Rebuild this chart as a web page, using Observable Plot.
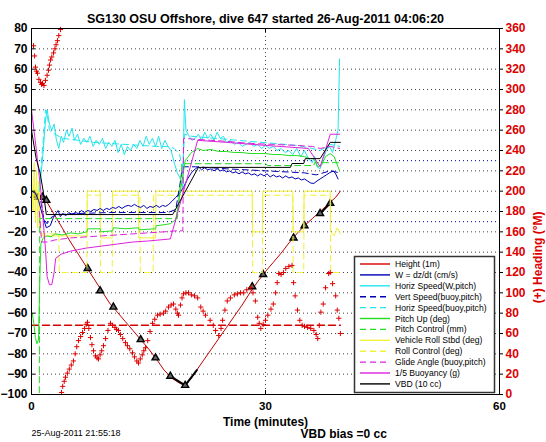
<!DOCTYPE html>
<html><head><meta charset="utf-8">
<script src="https://cdn.jsdelivr.net/npm/d3@7"></script>
<script src="https://cdn.jsdelivr.net/npm/@observablehq/plot@0.6"></script>
<style>body{margin:0;background:#fff;} #chart{position:relative;width:546px;height:442px;}</style>
</head><body><div id="chart"></div>
<script>
const titleText = "SG130 OSU Offshore, dive 647 started 26-Aug-2011 04:06:20";
const xLabel = "Time (minutes)";
const rightLabel = "(+) Heading (°M)";
const dateText = "25-Aug-2011 21:55:18";
const biasText = "VBD bias =0 cc";
const xTicks = [0, 30, 60];
const yTicks = d3.range(-100, 81, 10);
const yGrid = d3.range(-90, 71, 10);
const xGrid = [30];
const wTargets = [15, -15];
const headingTarget = 68;
const diveSpan = [0, 39.6];

// [time (min), value]
const heightData = [[0,0],[0.5,-1],[1,-2],[1.5,-3],[2,-5.5],[3,-12],[4,-18.5],[5,-25],[6,-31],[7,-37],[8,-43],[9,-49],[10,-55],[11,-59.5],[12,-64],[13,-68.5],[14,-73],[15,-77.5],[16,-82.5],[17,-88],[18,-92],[19,-94.5],[19.7,-95.5],[20.5,-92],[21,-89],[22,-83.5],[23,-78],[24,-72.5],[25,-67],[26,-61.5],[27,-56],[28,-50],[29,-44.5],[30,-39.5],[31,-35],[32,-30.5],[33,-25.5],[34,-21],[35,-17],[36,-13.5],[37,-10],[38,-6.5],[39,-3],[39.6,0]];
const gcMarks = [[0.4,-2],[0.9,-3],[1.4,-3],[1.9,-4.5],[7.2,-38],[8.8,-49],[10.5,-57],[14.0,-73],[15.9,-82],[17.8,-91],[19.7,-95.5],[28.3,-47],[29.7,-41],[33.6,-23],[35.0,-17],[37.0,-11],[38.3,-6]];
const gcSegA = [[0.3,-1.5],[2.0,-5]];
const gcSegB = [[17.8,-91],[19.7,-95.5],[21.2,-88]];
const gcSegC = [[37,-11],[38.3,-6]];
const wData = [[0,0],[0.5,-1],[0.9,-4.5],[1.5,-13],[1.9,-18],[2.4,-17],[2.8,-13],[3.4,-9.5],[3.7,-12.5],[4,-11],[4.4,-12],[4.8,-10.5],[5.2,-11.5],[5.6,-10.5],[6,-11],[6.4,-9.5],[6.8,-10.5],[7.2,-9.5],[7.6,-10],[8,-9],[8.4,-9.5],[8.8,-8.5],[9.2,-9.5],[9.6,-8.5],[10,-9],[10.4,-8],[10.8,-8.5],[11.2,-7.5],[11.6,-8.5],[12,-7.5],[12.4,-7],[12.8,-7.5],[13.2,-6.5],[13.6,-7.5],[14,-8],[14.4,-7],[14.8,-8.5],[15.2,-7.5],[15.6,-8],[16,-7],[16.4,-8],[16.8,-7],[17.2,-7.5],[17.6,-6.5],[18,-5],[18.5,-3],[19,-1],[19.5,2],[20,6],[20.5,9],[21,11],[21.4,12],[21.8,10.5],[22.2,11.5],[22.6,10.5],[23,11],[23.4,10],[23.8,11],[24.2,10],[24.6,10.5],[25,9.5],[25.4,10],[25.8,9],[26.2,9.5],[26.6,8.5],[27,9.5],[27.4,8.5],[27.8,9],[28.2,8],[28.6,8.5],[29,7.5],[29.4,8.5],[29.8,7.5],[30.2,8.5],[30.6,7],[31,8],[31.4,7],[31.8,7.5],[32.2,6.5],[32.6,7.5],[33,6.5],[33.4,7],[33.8,6],[34.2,6.5],[34.6,5.5],[35,6],[35.4,5],[35.8,4],[36.2,3.8],[36.6,5],[37,6],[37.4,7],[37.8,8],[38.2,9],[38.7,10],[39,8.5],[39.3,6]];
const hsData = [[1.0,0],[1.4,15],[1.8,35],[2.0,40],[2.3,33],[2.6,30],[2.9,33],[3.2,25],[3.5,21],[3.8,27],[4.1,24],[4.5,30],[4.8,27],[5.2,31],[5.5,25],[5.9,28],[6.3,23],[6.7,26],[7.1,24],[7.5,27],[7.9,22],[8.3,25],[8.7,23],[9.1,26],[9.5,21],[9.9,24],[10.3,22],[10.7,25],[11.1,19],[11.5,23],[11.9,18],[12.3,22],[12.7,20],[13.1,23],[13.5,21],[13.9,25],[14.3,22],[14.7,27],[15.1,23],[15.5,26],[15.9,22],[16.3,27],[16.7,21],[17.1,25],[17.5,22],[17.9,20],[18.3,14],[18.7,9],[19.1,6],[19.4,2],[19.6,45],[19.8,30],[20.2,27],[20.6,25],[21,26],[21.4,28],[21.8,25],[22.2,29],[22.6,26],[23,28],[23.4,25],[23.8,29],[24.2,26],[24.6,27],[25,24],[25.5,25],[26,23],[26.5,24],[27,22],[27.5,23],[28,24],[28.5,22],[29,23],[29.5,21],[30,22.5],[30.5,21],[31,22],[31.5,20],[32,21],[32.5,19],[33,20],[33.5,18],[34,21],[34.5,17],[35,20],[35.5,16],[36,14],[36.3,17],[36.6,12],[37,11],[37.4,16],[37.8,20],[38.2,22],[38.6,19],[39,25],[39.3,30],[39.5,65]];
const vsBuoyData = [[1.2,-5],[1.6,-14],[2.0,-16],[2.5,-13],[3.2,-11.5],[6,-11],[10,-10.5],[14,-10.5],[17.5,-10.5],[18.5,-9],[19.4,12],[21,12],[25,11],[30,10],[35,9],[36.5,8],[38.3,10],[39.5,9]];
const hsBuoyData = [[1.1,4],[1.3,16],[1.5,25],[1.8,40],[2.0,38],[2.3,30],[3,28],[4,26],[6,25],[8,24],[10,23.5],[12,23],[14,22.5],[16,22],[17.5,22],[18.3,21],[19,18],[19.4,10],[19.6,28],[20.5,27],[22,26.5],[25,25.5],[28,24.5],[31,23.5],[34,22.5],[36,21],[37,20],[38.3,23],[39.5,22]];
const pitchData = [[0,-62],[0.1,-60],[0.3,-65],[0.5,-72],[0.7,-75],[0.9,-73],[1.05,-45],[1.2,-26],[1.5,-23],[2,-22],[2.5,-22.5],[3,-21],[4,-21.5],[5,-20.5],[6,-21],[7.1,-20],[7.2,-18.5],[8.8,-18.5],[8.9,-20],[10.4,-19.5],[10.5,-18],[12,-18.5],[13.7,-18],[13.8,-19],[15.9,-18.5],[16,-17],[17,-16.5],[17.8,-16],[18.5,-14],[19.3,5],[19.7,15],[20.5,19],[21.3,21],[22,20],[23,20.5],[24,19.5],[25,19.5],[26,19],[27,19],[28,18.5],[29,18.5],[30,18.5],[31,18],[32,18],[33,17.5],[34,17.5],[35,17],[35.7,16],[36.2,16],[36.7,12],[37.2,13],[37.7,17],[38.3,18.5],[38.8,17],[39.3,12],[39.5,10]];
const pitchCtlData = [[0,-110],[1.0,-110],[1.05,-13.5],[18.7,-13.5],[19.3,13.5],[30,13.5],[30.3,12.6],[36.2,12.6],[36.3,14],[39.5,14]];
const rollData = [[0,10],[0.2,-10],[0.35,14],[0.5,-15],[0.65,10],[0.8,-18],[0.95,5],[1.1,-20],[1.3,-22],[7.1,-22],[7.15,0],[8.8,0],[8.85,-23],[10.35,-23],[10.4,0],[13.7,0],[13.75,-23],[15.9,-23],[15.95,0],[28.3,0],[28.35,-20],[29.6,-20],[29.65,0],[33.5,0],[33.55,-20],[34.9,-20],[34.95,0],[38.3,0],[38.35,-20],[38.8,-22],[39.2,-18],[39.6,-21]];
const rollCtlData = [[0,0],[1.0,0],[1.2,-21],[3.5,-21],[3.55,-40],[7.1,-40],[7.15,-2],[8.8,-2],[8.85,-40],[10.35,-40],[10.4,-2],[13.9,-2],[13.95,-40],[15.6,-40],[15.65,-2],[28.3,-2],[28.35,-40],[29.6,-40],[29.65,-2],[33.5,-2],[33.55,-40],[34.9,-40],[34.95,-2],[38.3,-2],[38.35,-40],[39.6,-40]];
const glideData = [[1.0,-10],[1.3,-25],[2,-25],[3,-24],[5,-23],[7,-22.5],[9,-22],[11,-21.5],[13,-21],[15,-20.5],[17,-20],[18.5,-19.5],[19.4,-19.5],[19.5,26],[21,25.5],[23,25],[25,24.5],[28,23.5],[31,23],[34,22.5],[36,22],[37,21],[38.3,22],[39.5,21]];
const buoyData = [[0,40],[0.6,21],[1.2,0],[1.8,-29],[2.0,-42],[2.3,-46],[2.6,-46],[2.9,-40],[3.1,-33],[3.8,-31],[5,-29.5],[7,-28],[9,-27],[11,-26],[13,-25],[15,-24.5],[17.8,-23.5],[21.3,25],[25,24],[30,22.5],[35.5,21],[36.5,15],[37,12],[37.5,18],[38.3,28],[39.5,28]];
const vbdData = [[0,30],[0.6,16],[1.1,9],[1.5,0],[1.9,-11.5],[18.1,-11.5],[21.4,11.7],[33.2,11.7],[33.4,13.6],[34.9,13.6],[35.1,16],[37,16],[38.3,24],[39.6,24]];
// heading in degrees (right axis)
const headingData = [[0.26,343],[0.4,333],[0.51,322],[0.64,318],[0.77,316],[0.95,310],[1.15,307],[1.3,305],[1.41,306],[1.6,304],[1.79,309],[2.0,314],[2.18,319],[2.3,324],[2.44,329],[2.6,332],[2.82,336],[3.0,340],[3.15,344],[3.33,348],[3.5,353],[3.72,359],[3.85,2],[4.0,8],[4.2,13],[4.36,17],[4.6,21],[4.85,25],[5.1,29],[5.38,33],[5.6,40],[5.8,47],[6.03,53],[6.3,57],[6.54,61],[6.8,65],[7.0,69],[7.18,71],[7.35,65],[7.56,56],[7.75,49],[7.95,43],[8.2,38],[8.4,36],[8.59,35],[8.8,39],[9.0,43],[9.23,48],[9.5,55],[9.8,63],[10.13,70],[10.4,68],[10.7,66],[10.9,64],[11.15,63],[11.4,59],[11.7,55],[12.05,51],[12.3,48],[12.6,45],[12.95,41],[13.2,37],[13.5,33],[13.72,31],[13.95,35],[14.2,39],[14.4,43],[14.62,46],[14.9,53],[15.2,62],[15.51,70],[15.8,74],[16.15,78],[16.5,79],[16.92,80],[17.2,82],[17.56,86],[17.9,88],[18.21,89],[18.5,84],[18.7,80],[18.85,78],[19.1,88],[19.3,95],[19.49,99],[19.8,100],[20.13,100],[20.5,98],[20.9,97],[21.3,95],[21.7,86],[22.0,82],[22.3,78],[22.9,73],[23.3,68],[23.6,63],[24.0,58],[24.3,65],[24.5,73],[24.8,83],[25.1,92],[25.5,95],[26.0,98],[26.4,99],[26.8,100],[27.2,100],[27.6,103],[28.1,105],[28.4,100],[28.7,92],[29.0,76],[29.2,70],[29.4,65],[29.7,69],[30.0,73],[30.3,78],[30.7,84],[31.0,89],[31.3,100],[31.5,110],[31.7,119],[32.0,118],[32.3,120],[32.6,124],[33.0,126],[33.4,127],[33.6,110],[33.8,97],[34.1,83],[34.4,73],[34.7,68],[35.0,67],[35.4,66],[35.8,65],[36.2,63],[36.5,59],[36.7,55],[36.9,68],[37.1,81],[37.4,89],[37.7,105],[38.1,119],[38.3,120],[38.6,109],[39.0,97],[39.2,83],[39.4,75],[39.6,60]];

const legendItems = [
  {label: "Height (1m)", color: "#d40000", dash: null},
  {label: "W = dz/dt (cm/s)", color: "#0000b4", dash: null},
  {label: "Horiz Speed(W,pitch)", color: "#22e5ee", dash: null},
  {label: "Vert Speed(buoy,pitch)", color: "#0000b4", dash: "6,4"},
  {label: "Horiz Speed(buoy,pitch)", color: "#22e5ee", dash: "6,4"},
  {label: "Pitch Up (deg)", color: "#22dd22", dash: null},
  {label: "Pitch Control (mm)", color: "#22dd22", dash: "6,4"},
  {label: "Vehicle Roll Stbd (deg)", color: "#f2f23a", dash: null},
  {label: "Roll Control (deg)", color: "#f2f23a", dash: "6,4"},
  {label: "Glide Angle (buoy,pitch)", color: "#dd22dd", dash: "6,4"},
  {label: "1/5 Buoyancy (g)", color: "#dd22dd", dash: null},
  {label: "VBD (10 cc)", color: "#000000", dash: null}
];

const toObj = a => a.map(([t, v]) => ({t, v}));
const hY = h => h / 2 - 100; // heading 0..360 -> left axis -100..80
const ln = (data, stroke, dash, sw = 1) => Plot.line(toObj(data), {x: "t", y: "v", stroke, strokeWidth: sw, strokeDasharray: dash, clip: true});

const FL = 31, FR = 47, FT = 28, FB = 48, W = 546, H = 442;
const fw = W - FL - FR, fh = H - FT - FB;

const chart = Plot.plot({
  width: W, height: H,
  marginLeft: FL, marginRight: FR, marginTop: FT, marginBottom: FB,
  x: {domain: [0, 60]},
  y: {domain: [-100, 80]},
  style: {fontFamily: "'Liberation Sans', Arial, Helvetica, sans-serif", fontSize: "12px", fontWeight: "bold", background: "white", color: "black"},
  marks: [
    Plot.ruleY(yGrid, {stroke: "#444", strokeDasharray: "1,3"}),
    Plot.ruleX(xGrid, {stroke: "#444", strokeDasharray: "1,3"}),
    Plot.ruleY(wTargets, {stroke: "#0000b4", strokeDasharray: "1,3"}),
    Plot.line(diveSpan.map(t => ({t, v: hY(headingTarget)})), {x: "t", y: "v", stroke: "#d40000", strokeDasharray: "7,4"}),
    ln(heightData, "#c00000"),
    ln(gcSegA, "black", null, 2),
    ln(gcSegB, "black", null, 2),
    ln(gcSegC, "black", null, 2),
    Plot.dot(toObj(gcMarks), {x: "t", y: "v", symbol: "triangle", r: 2.6, stroke: "black", strokeWidth: 1.4, fill: "#666"}),
    ln(rollData, "#f2f23a"),
    ln(rollCtlData, "#f2f23a", "6,4"),
    ln(wData, "#0000b4"),
    ln(hsData, "#22e5ee"),
    ln(vsBuoyData, "#0000b4", "6,4"),
    ln(hsBuoyData, "#22e5ee", "6,4"),
    ln(pitchData, "#22dd22"),
    ln(pitchCtlData, "#22dd22", "6,4"),
    ln(glideData, "#dd22dd", "6,4"),
    ln(buoyData, "#dd22dd"),
    ln(vbdData, "#000000"),
    Plot.dot(headingData.map(([t, h]) => ({t, v: hY(h)})), {x: "t", y: "v", symbol: "plus", r: 1.8, stroke: "#dd0000", strokeWidth: 1}),
    Plot.frame({stroke: "black"}),
    Plot.tickY(yTicks, {y: d => d, insetRight: fw - 4, stroke: "black"}),
    Plot.tickY(yTicks, {y: d => d, insetLeft: fw, insetRight: -4, stroke: "black"}),
    Plot.tickX(xTicks, {x: d => d, insetTop: fh - 4, stroke: "black"}),
    Plot.tickX(xTicks, {x: d => d, insetBottom: fh - 4, stroke: "black"}),
    Plot.axisY({ticks: yTicks, tickSize: 0, tickPadding: 4, label: null}),
    Plot.axisY({anchor: "right", ticks: yTicks, tickFormat: d => String((d + 100) * 2), tickSize: 0, tickPadding: 6, label: null, fill: "#dd0000"}),
    Plot.axisX({ticks: xTicks, tickSize: 0, tickPadding: 7, label: null, fontSize: 11.5}),
    Plot.text([titleText], {frameAnchor: "top", dy: -14, fontSize: 12.5, fontWeight: "bold"}),
    Plot.text([xLabel], {frameAnchor: "bottom", dy: 31, fontSize: 12, fontWeight: "bold"}),
    Plot.text([dateText], {frameAnchor: "bottom-left", dx: 0, dy: 41, textAnchor: "start", fontSize: 9, fontWeight: "normal"}),
    Plot.text([biasText], {frameAnchor: "bottom-left", dx: 269, dy: 43, textAnchor: "start", fontSize: 12, fontWeight: "bold"}),
    Plot.text([rightLabel], {frameAnchor: "right", dx: 39, rotate: -90, fontSize: 12, fontWeight: "bold", fill: "#dd0000"})
  ]
});
document.getElementById("chart").appendChild(chart);

// legend box
const svg = d3.select(chart);
const g = svg.append("g").attr("font-family", "'Liberation Sans', Arial, sans-serif").attr("font-size", 8.6).attr("font-weight", "normal").attr("text-anchor", "start");
g.append("rect").attr("x", 354.5).attr("y", 256.5).attr("width", 140).attr("height", 136).attr("fill", "white").attr("stroke", "#333").attr("stroke-width", 1.5);
legendItems.forEach((item, i) => {
  const y = 264 + i * 10.9;
  g.append("line").attr("x1", 360).attr("x2", 390).attr("y1", y).attr("y2", y)
    .attr("stroke", item.color).attr("stroke-width", 1.4).attr("stroke-dasharray", item.dash);
  g.append("text").attr("x", 395).attr("y", y).attr("dy", "0.35em").attr("text-anchor", "start").attr("fill", "black").text(item.label);
});
</script></body></html>
